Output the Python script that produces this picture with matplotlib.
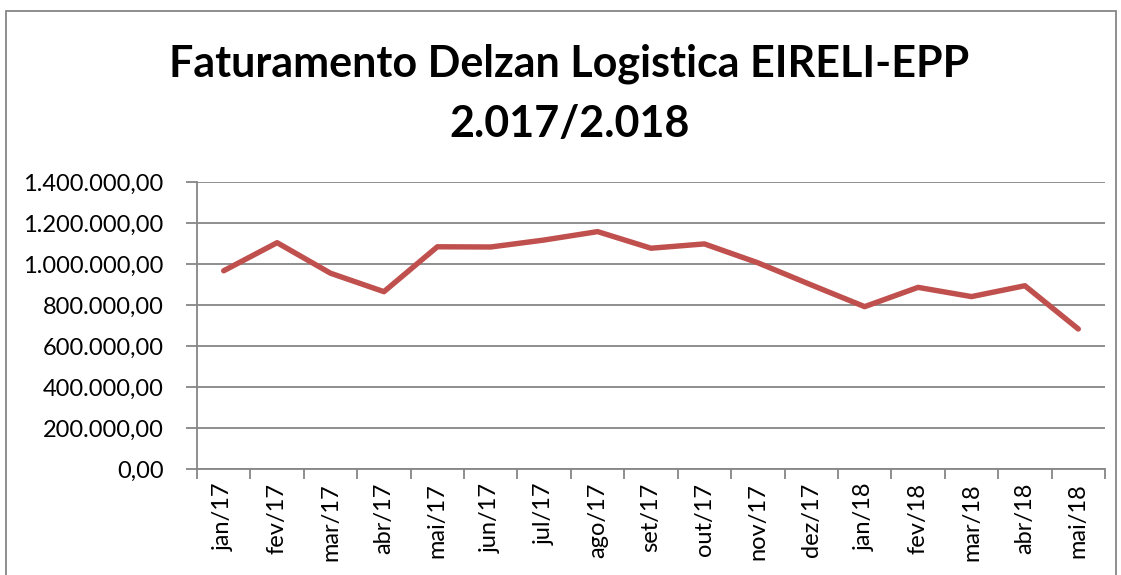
import matplotlib
matplotlib.use("Agg")
import matplotlib.pyplot as plt
from matplotlib.ticker import FuncFormatter, MultipleLocator
from matplotlib.patches import Rectangle

months = ["jan/17", "fev/17", "mar/17", "abr/17", "mai/17", "jun/17", "jul/17",
          "ago/17", "set/17", "out/17", "nov/17", "dez/17", "jan/18", "fev/18",
          "mar/18", "abr/18", "mai/18"]
faturamento = [967000, 1104000, 955000, 865000, 1084000, 1083000, 1117000,
               1158000, 1077000, 1098000, 1006000, 898000, 792000, 886000,
               841000, 894000, 683000]
title_text = "Faturamento Delzan Logistica EIRELI-EPP\n2.017/2.018"

plt.rcParams['font.family'] = ['Lato', 'DejaVu Sans']

fig = plt.figure(figsize=(11.21, 5.75), dpi=100)
ax = fig.add_axes([197/1121, 1 - 469/575, (1105-197)/1121, (469-182)/575])

x = list(range(len(months)))
ax.plot(x, faturamento, color="#C0504D", linewidth=3.9, solid_joinstyle='round',
        solid_capstyle='round', zorder=3)

ax.set_xlim(-0.5, len(months) - 0.5)
ax.set_ylim(0, 1400000)
ax.yaxis.set_major_locator(MultipleLocator(200000))

def br(v, pos):
    s = f"{v:,.2f}"
    return s.replace(",", "X").replace(".", ",").replace("X", ".")
ax.yaxis.set_major_formatter(FuncFormatter(br))

ax.set_xticks(x)
ax.set_xticklabels(months, rotation=90, fontsize=17)
ax.tick_params(axis='x', length=0, pad=10)
ax.set_xticks([i - 0.5 for i in range(len(months) + 1)], minor=True)
ax.tick_params(axis='x', which='minor', length=7, color='#868686', width=1.3)
ax.tick_params(axis='y', length=8, color='#868686', width=1.3, labelsize=17, pad=16)

ax.grid(axis='y', color='#868686', linewidth=1.3)
ax.set_axisbelow(True)
for s in ['top', 'right']:
    ax.spines[s].set_visible(False)
ax.spines['left'].set_color('#868686')
ax.spines['bottom'].set_color('#868686')
ax.spines['left'].set_linewidth(1.3)
ax.spines['bottom'].set_linewidth(1.3)

fig.text(0.508, 1 - 94/575, title_text, ha='center', va='center', fontsize=31,
         fontweight='bold', linespacing=1.6)

fig.patches.append(Rectangle((6/1121, -0.05), (1116-6)/1121, 1 - 11/575 + 0.05,
                             transform=fig.transFigure, fill=False,
                             edgecolor='#868686', linewidth=1.3))

fig.savefig("out.png", dpi=100)
